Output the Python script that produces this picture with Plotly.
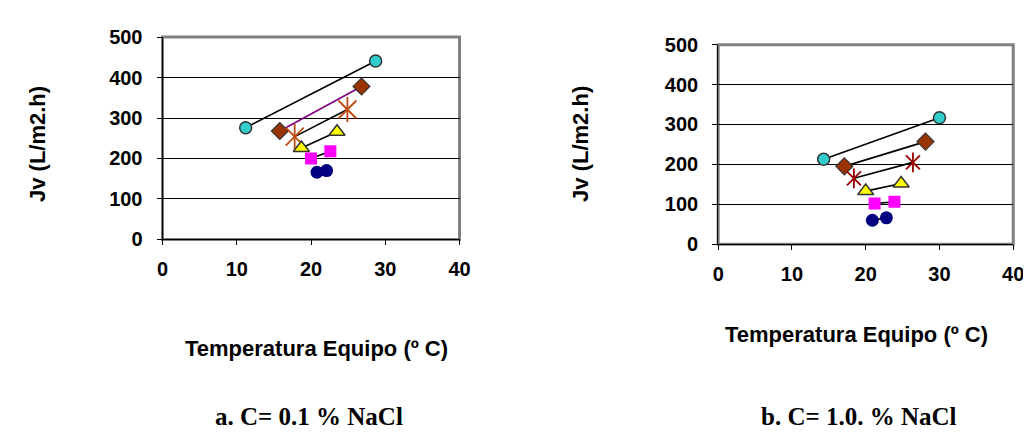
import plotly.graph_objects as go

# ---- Data: panel a (C = 0.1 % NaCl) ----
a_circle_x = [11.2, 28.7]
a_circle_y = [276, 441]
a_diamond_x = [15.8, 26.8]
a_diamond_y = [268, 378]
a_star_x = [17.8, 24.9]
a_star_y = [254, 321]
a_tri_x = [18.7, 23.5]
a_tri_y = [226, 266]
a_sq_x = [20.0, 22.6]
a_sq_y = [200, 218]
a_navy_x = [20.8, 22.1]
a_navy_y = [166, 170]

# ---- Data: panel b (C = 1.0 % NaCl) ----
b_circle_x = [14.3, 30.0]
b_circle_y = [213, 317]
b_diamond_x = [17.1, 28.1]
b_diamond_y = [195, 257]
b_star_x = [18.4, 26.4]
b_star_y = [165, 205]
b_tri_x = [20.0, 24.8]
b_tri_y = [133, 152]
b_sq_x = [21.2, 23.9]
b_sq_y = [102, 106]
b_navy_x = [20.9, 22.8]
b_navy_y = [60, 66]

x_ticks = [0, 10, 20, 30, 40]
y_ticks = [0, 100, 200, 300, 400, 500]

x_title = "Temperatura Equipo (º C)"
y_title = "Jv (L/m2.h)"
cap_a = "a. C= 0.1 % NaCl"
cap_b = "b. C= 1.0. % NaCl"

SANS = "Liberation Sans, Arial, sans-serif"
SERIF = "Liberation Serif, Times New Roman, serif"
OUT = "#333333"

fig = go.Figure()


def add_panel(xa, ya, d, star_color, diamond_line, star_size):
    circ, diam, star, tri, sq, navy = d
    fig.add_trace(go.Scatter(x=circ[0], y=circ[1], mode="lines+markers", xaxis=xa, yaxis=ya,
                             line=dict(color="black", width=1.6),
                             marker=dict(symbol="circle", size=12, color="#33CCCC",
                                         line=dict(color=OUT, width=1.5))))
    fig.add_trace(go.Scatter(x=diam[0], y=diam[1], mode="lines+markers", xaxis=xa, yaxis=ya,
                             line=dict(color=diamond_line, width=1.6),
                             marker=dict(symbol="diamond", size=13, color="#993300",
                                         line=dict(color=OUT, width=1.2))))
    fig.add_trace(go.Scatter(x=star[0], y=star[1], mode="lines", xaxis=xa, yaxis=ya,
                             line=dict(color="black", width=1.6)))
    for sym in ["x-thin-open", "line-ns-open"]:
        fig.add_trace(go.Scatter(x=star[0], y=star[1], mode="markers", xaxis=xa, yaxis=ya,
                                 marker=dict(symbol=sym, size=star_size, color=star_color,
                                             line=dict(color=star_color, width=1.8))))
    fig.add_trace(go.Scatter(x=tri[0], y=tri[1], mode="lines+markers", xaxis=xa, yaxis=ya,
                             line=dict(color="black", width=1.6),
                             marker=dict(symbol="triangle-up", size=14, color="#FFFF00",
                                         line=dict(color=OUT, width=1.5))))
    fig.add_trace(go.Scatter(x=sq[0], y=sq[1], mode="lines+markers", xaxis=xa, yaxis=ya,
                             line=dict(color="black", width=1.6),
                             marker=dict(symbol="square", size=12, color="#FF00FF",
                                         line=dict(width=0))))
    fig.add_trace(go.Scatter(x=navy[0], y=navy[1], mode="lines+markers", xaxis=xa, yaxis=ya,
                             line=dict(color="black", width=1.6),
                             marker=dict(symbol="circle", size=13, color="#000080",
                                         line=dict(width=0))))


add_panel("x", "y",
          [(a_circle_x, a_circle_y), (a_diamond_x, a_diamond_y), (a_star_x, a_star_y),
           (a_tri_x, a_tri_y), (a_sq_x, a_sq_y), (a_navy_x, a_navy_y)],
          "#C04A10", "#800080", 18)
add_panel("x2", "y2",
          [(b_circle_x, b_circle_y), (b_diamond_x, b_diamond_y), (b_star_x, b_star_y),
           (b_tri_x, b_tri_y), (b_sq_x, b_sq_y), (b_navy_x, b_navy_y)],
          "#990000", "black", 14)

W, H = 1031, 441
tickfont = dict(family=SANS, size=20, color="black", weight="bold")
xcommon = dict(range=[0, 40], tickvals=x_ticks, ticktext=[str(v) for v in x_ticks],
               showgrid=False, zeroline=False, showline=True, linecolor="black", linewidth=1,
               ticks="outside", ticklen=5, tickcolor="black", tickfont=tickfont,
               ticklabelstandoff=7, fixedrange=True)
ycommon = dict(range=[0, 500], tickvals=y_ticks, ticktext=[str(v) for v in y_ticks],
               showgrid=True, gridcolor="black", gridwidth=1, zeroline=False,
               showline=True, linecolor="black", linewidth=1,
               ticks="outside", ticklen=5, tickcolor="black", tickfont=tickfont,
               ticklabelstandoff=10, fixedrange=True)

fig.update_layout(
    width=W, height=H,
    margin=dict(l=0, r=0, t=0, b=0),
    paper_bgcolor="white", plot_bgcolor="white",
    showlegend=False,
    xaxis=dict(domain=[151 / W, 453 / W], anchor="y", **xcommon),
    yaxis=dict(domain=[1 - 232 / H, 1 - 19 / H], anchor="x", **ycommon),
    xaxis2=dict(domain=[716 / W, 1016 / W], anchor="y2", **xcommon),
    yaxis2=dict(domain=[1 - 237 / H, 1 - 27 / H], anchor="x2", **ycommon),
)

for xr, yr in [("x", "y"), ("x2", "y2")]:
    fig.add_shape(type="rect", xref=f"{xr} domain", yref=f"{yr} domain", x0=0, x1=1, y0=0, y1=1,
                  line=dict(color="#808080", width=3), layer="below")

title_font = dict(family=SANS, size=22, color="black", weight="bold")
# y titles
fig.add_annotation(text=y_title, x=24 / W, y=1 - 132 / H, xref="paper", yref="paper",
                   textangle=-90, showarrow=False, font=title_font, xanchor="center", yanchor="middle")
fig.add_annotation(text=y_title, x=576 / W, y=1 - 132 / H, xref="paper", yref="paper",
                   textangle=-90, showarrow=False, font=title_font, xanchor="center", yanchor="middle")
# x titles
fig.add_annotation(text=x_title, x=308 / W, y=1 - 347 / H, xref="paper", yref="paper",
                   showarrow=False, font=title_font, xanchor="center", yanchor="middle")
fig.add_annotation(text=x_title, x=857 / W, y=1 - 332 / H, xref="paper", yref="paper",
                   showarrow=False, font=title_font, xanchor="center", yanchor="middle")
# captions
cap_font = dict(family=SERIF, size=25, color="black", weight="bold")
fig.add_annotation(text=cap_a, x=300 / W, y=1 - 418 / H, xref="paper", yref="paper",
                   showarrow=False, font=cap_font, xanchor="center", yanchor="middle")
fig.add_annotation(text=cap_b, x=859 / W, y=1 - 418 / H, xref="paper", yref="paper",
                   showarrow=False, font=cap_font, xanchor="center", yanchor="middle")

fig.write_html("out.html")
